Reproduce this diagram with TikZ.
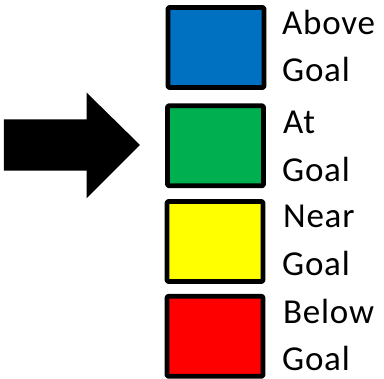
\documentclass[tikz,border=0pt]{standalone}
\usepackage{fontspec}
\setmainfont{Carlito}[LetterSpace=2.2]
\definecolor{cblue}{HTML}{0070C0}
\definecolor{cgreen}{HTML}{00B050}
\definecolor{cyellow}{HTML}{FFFF00}
\definecolor{cred}{HTML}{FF0000}
\tikzset{
  swatch/.style={draw=black, line width=4.8pt, line join=round, rounded corners=1.2pt, minimum width=96pt, minimum height=80pt, inner sep=0pt, outer sep=0pt},
  lbl/.style={anchor=base west, inner sep=0pt, font=\fontsize{35}{40}\selectfont}
}
\begin{document}
\begin{tikzpicture}[x=1pt,y=-1pt]
\useasboundingbox (0,0) rectangle (384,379);
% arrow
\fill[black] (4,119.3) -- (86.7,119.3) -- (86.7,92.7) -- (140,145) -- (86.7,198.3) -- (86.7,170.7) -- (4,170.7) -- cycle;
% swatches
\node[swatch, fill=cblue]   (above) at (216,47.5) {};
\node[swatch, fill=cgreen]  (at)    at (215.5,145.8) {};
\node[swatch, fill=cyellow] (near)  at (215,241.5) {};
\node[swatch, fill=cred]    (below) at (215,336.3) {};
% labels
\node[lbl] (t1a) at (282,34.7) {Above};
\node[lbl] (t1b) at (282,81.7) {Goal};
\node[lbl] (t2a) at (283,133.3) {At};
\node[lbl] (t2b) at (282,181.7) {Goal};
\node[lbl] (t3a) at (283,227.3) {Near};
\node[lbl] (t3b) at (282,275.7) {Goal};
\node[lbl] (t4a) at (283,324) {Below};
\node[lbl] (t4b) at (282,370.7) {Goal};
\end{tikzpicture}
\end{document}
